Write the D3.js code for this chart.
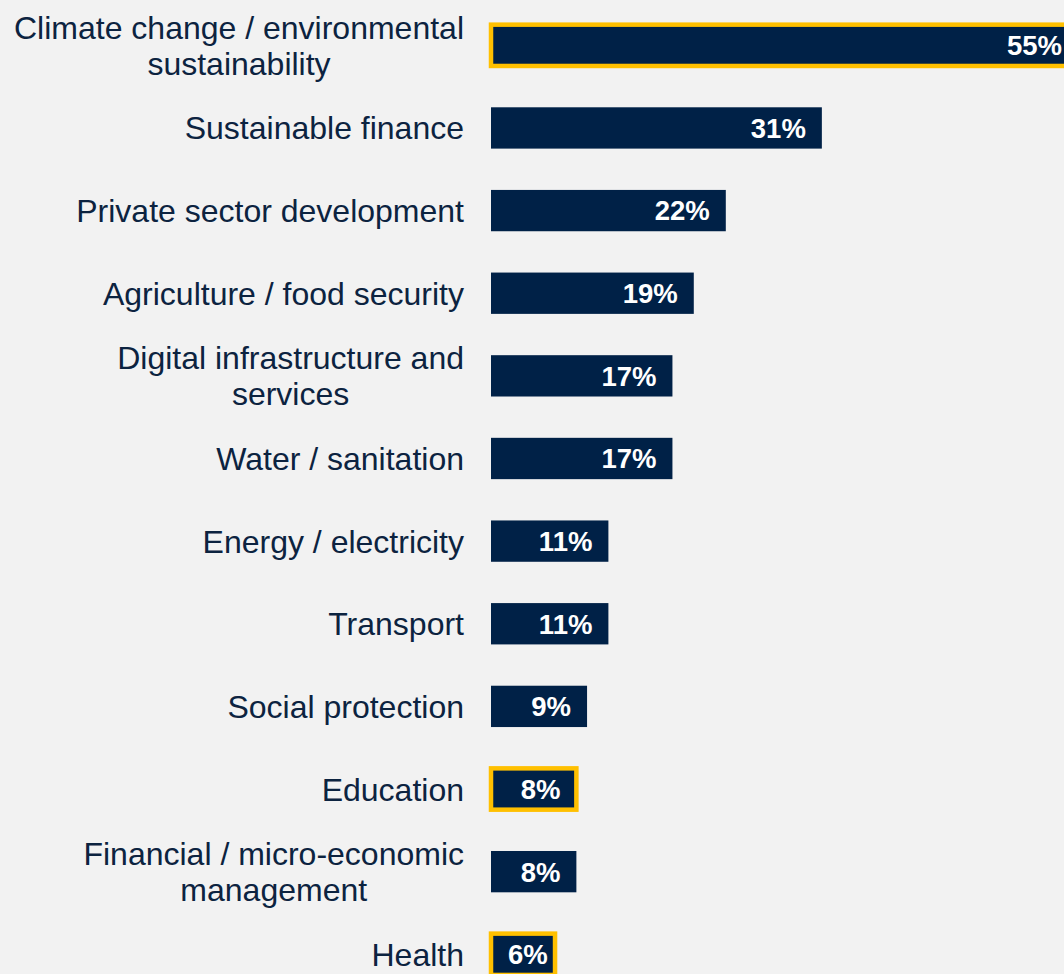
<!DOCTYPE html>
<html>
<head>
<meta charset="utf-8">
<script src="https://cdn.jsdelivr.net/npm/d3@7/dist/d3.min.js"></script>
<style>
  html, body { margin: 0; padding: 0; background: #f2f2f2; }
  svg { display: block; }
</style>
</head>
<body>
<svg id="chart" width="1064" height="974"></svg>
<script>
// Share of respondents by sector of focus
const categories = [
  ["Climate change / environmental", "sustainability"],
  ["Sustainable finance"],
  ["Private sector development"],
  ["Agriculture / food security"],
  ["Digital infrastructure and", "services"],
  ["Water / sanitation"],
  ["Energy / electricity"],
  ["Transport"],
  ["Social protection"],
  ["Education"],
  ["Financial / micro-economic", "management"],
  ["Health"]
];
const values = [55, 31, 22, 19, 17, 17, 11, 11, 9, 8, 8, 6];
const highlighted = [true, false, false, false, false, false, false, false, false, true, false, true];

const navy = "#002147";
const gold = "#ffc000";
const textColor = "#0c2340";

const svg = d3.select("#chart");
const keys = categories.map((c, i) => i);

const x = d3.scaleLinear().domain([0, 55]).range([491, 1078]);
const y = d3.scaleBand().domain(keys).range([4.0, 995.6]).paddingInner(0.5).paddingOuter(0.25);

const rows = svg.selectAll("g.row").data(keys).join("g").attr("class", "row");

rows.append("rect")
  .attr("x", x(0))
  .attr("y", i => y(i))
  .attr("width", i => x(values[i]) - x(0))
  .attr("height", y.bandwidth())
  .attr("fill", navy)
  .attr("stroke", i => highlighted[i] ? gold : "none")
  .attr("stroke-width", 4.5);

// Value labels sit at the inside end of each bar, but never closer than
// a fixed inset to the bar's start
const endPad = 16, startPad = 17;
rows.append("text")
  .attr("y", i => y(i) + y.bandwidth() / 2)
  .attr("dy", "0.36em")
  .attr("text-anchor", "start")
  .attr("fill", "#ffffff")
  .attr("font-family", "Liberation Sans, Arial, sans-serif")
  .attr("font-weight", "bold")
  .attr("font-size", 27.5)
  .text(i => values[i] + "%")
  .attr("x", function(i) {
    const w = this.getComputedTextLength();
    return Math.max(x(values[i]) - endPad - w, x(0) + startPad);
  });

// Category labels: block right-aligned to the axis, lines centred within it
const lineGap = 36;
const labelRight = 464;
rows.append("text")
  .attr("text-anchor", "middle")
  .attr("fill", textColor)
  .attr("font-family", "Liberation Sans, Arial, sans-serif")
  .attr("font-size", 32)
  .each(function(i) {
    const lines = categories[i];
    const t = d3.select(this);
    const cy = y(i) + y.bandwidth() / 2;
    const spans = lines.map((line, k) =>
      t.append("tspan")
        .attr("x", 0)
        .attr("y", cy + (k - (lines.length - 1) / 2) * lineGap)
        .attr("dy", "0.36em")
        .text(line)
    );
    const maxW = d3.max(spans, s => s.node().getComputedTextLength());
    spans.forEach(s => s.attr("x", labelRight - maxW / 2));
  });
</script>
</body>
</html>
